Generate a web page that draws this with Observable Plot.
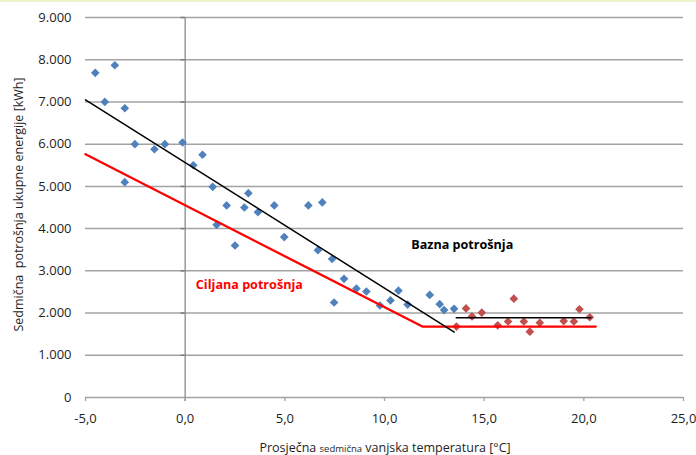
<!DOCTYPE html>
<html>
<head>
<meta charset="utf-8">
<script src="https://cdn.jsdelivr.net/npm/d3@7"></script>
<script src="https://cdn.jsdelivr.net/npm/@observablehq/plot@0.6"></script>
<style>
  html, body { margin: 0; padding: 0; background: #ffffff; }
  #wrap { position: relative; width: 696px; height: 455px; overflow: hidden; }
  #topline { position: absolute; left: 0; top: 0; width: 696px; height: 2px; background: #eef3cc; }
  svg { font-family: "Open Sans", "Noto Sans", sans-serif; }
</style>
</head>
<body>
<div id="wrap"><div id="topline"></div></div>
<script>
// Blue points (weeks on the heating regime)
const blueTemp = [-4.51,-4.03,-3.53,-3.03,-2.52,-3.03,-1.54,-1.02,-0.13,0.41,0.87,1.38,1.58,2.08,2.5,2.97,3.17,3.65,4.47,4.97,6.18,6.88,6.66,7.37,7.47,7.97,8.59,9.09,9.77,10.3,10.7,11.16,12.27,12.77,12.99,13.49];
const blueEnergy = [7690,7000,7870,6850,6000,5100,5880,6000,6040,5500,5750,4990,4090,4550,3600,4500,4840,4390,4550,3800,4550,4620,3490,3280,2250,2810,2580,2510,2180,2300,2530,2200,2430,2210,2070,2100];
// Red points (base load weeks)
const redTemp = [13.61,14.09,14.39,14.88,15.68,16.2,16.49,16.99,17.29,17.79,18.99,19.5,19.78,20.3];
const redEnergy = [1680,2110,1920,2010,1710,1800,2340,1800,1560,1770,1810,1800,2090,1900];
// Baseline (black) lines
const baseSlopeTemp = [-5, 13.5];
const baseSlopeEnergy = [7050, 1550];
const baseFlatTemp = [13.6, 20.35];
const baseFlatEnergy = [1890, 1890];
// Target (red) line
const targetTemp = [-5, 11.9, 20.6];
const targetEnergy = [5760, 1680, 1680];
// Ticks
const xTicks = [-5, 0, 5, 10, 15, 20, 25];
const yTicks = [0, 1000, 2000, 3000, 4000, 5000, 6000, 7000, 8000, 9000];
// Texts
const labelBase = "Bazna potrošnja";
const labelTarget = "Ciljana potrošnja";
const yTitle = "Sedmična  potrošnja ukupne energije [kWh]";
const xTitleParts = ["Prosječna ", "sedmična", " vanjska temperatura [°C]"];

const loc = d3.formatLocale({decimal: ",", thousands: ".", grouping: [3], currency: ["", ""], minus: "-"});
const fy = loc.format(",d");
const fx = loc.format(".1f");

const zip = (a, b) => a.map((v, i) => ({t: v, e: b[i]}));
const blue = zip(blueTemp, blueEnergy);
const red = zip(redTemp, redEnergy);
const baseSlope = zip(baseSlopeTemp, baseSlopeEnergy);
const baseFlat = zip(baseFlatTemp, baseFlatEnergy);
const target = zip(targetTemp, targetEnergy);

const txt = "#1e1e1e";
const plot = Plot.plot({
  width: 696,
  height: 455,
  marginLeft: 85,
  marginRight: 13,
  marginTop: 17,
  marginBottom: 58,
  style: {fontFamily: "'Open Sans', 'Noto Sans', sans-serif", fontSize: "13px", color: txt, background: "transparent"},
  x: {type: "linear", domain: [-5, 25]},
  y: {type: "linear", domain: [0, 9000]},
  marks: [
    Plot.gridY(yTicks, {stroke: "#a3a3a3", strokeOpacity: 1, strokeWidth: 1.5}),
    Plot.ruleX([0], {stroke: "#8a8a8a", strokeWidth: 1.3, insetBottom: -4}),
    Plot.ruleY(yTicks.slice(1), {x1: 0, x2: 0, insetLeft: -4, stroke: "#7a7a7a", strokeWidth: 1.5}),
    Plot.axisX(xTicks, {tickSize: 4, tickPadding: 12, stroke: "#a3a3a3", strokeWidth: 1.3, tickFormat: fx, fontSize: 13, fill: txt, label: null}),
    Plot.axisY(yTicks, {tickSize: 0, tickPadding: 14, tickFormat: fy, fontSize: 13, fill: txt, label: null}),
    Plot.dot(blue, {x: "t", y: "e", symbol: "diamond2", r: 3.9, fill: "#4f81bd", stroke: "none"}),
    Plot.dot(red, {x: "t", y: "e", symbol: "diamond2", r: 3.9, fill: "#c0504d", stroke: "none"}),
    Plot.line(target, {x: "t", y: "e", stroke: "#ff0000", strokeWidth: 2.3}),
    Plot.line(baseSlope, {x: "t", y: "e", stroke: "#000000", strokeWidth: 1.5}),
    Plot.line(baseFlat, {x: "t", y: "e", stroke: "#000000", strokeWidth: 1.5}),
    Plot.text([labelBase], {x: 13.9, y: 3620, text: d => d, fontWeight: "bold", fontSize: 12.6, fill: "#000"}),
    Plot.text([labelTarget], {x: 3.22, y: 2670, text: d => d, fontWeight: "bold", fontSize: 12.6, fill: "#ff0000"}),
    Plot.text([yTitle], {frameAnchor: "left", rotate: -90, textAnchor: "middle", dx: -67, dy: -3, text: d => d, fontSize: 12.5, fill: txt})
  ]
});
document.getElementById("wrap").appendChild(plot);

// x-axis title with a smaller middle word
const svg = d3.select(plot);
const t = svg.append("text")
  .attr("x", 385).attr("y", 452)
  .attr("text-anchor", "middle")
  .attr("fill", txt)
  .style("font-size", "12.5px");
t.append("tspan").text(xTitleParts[0]);
t.append("tspan").style("font-size", "9.5px").text(xTitleParts[1]);
t.append("tspan").text(xTitleParts[2]);
</script>
</body>
</html>
